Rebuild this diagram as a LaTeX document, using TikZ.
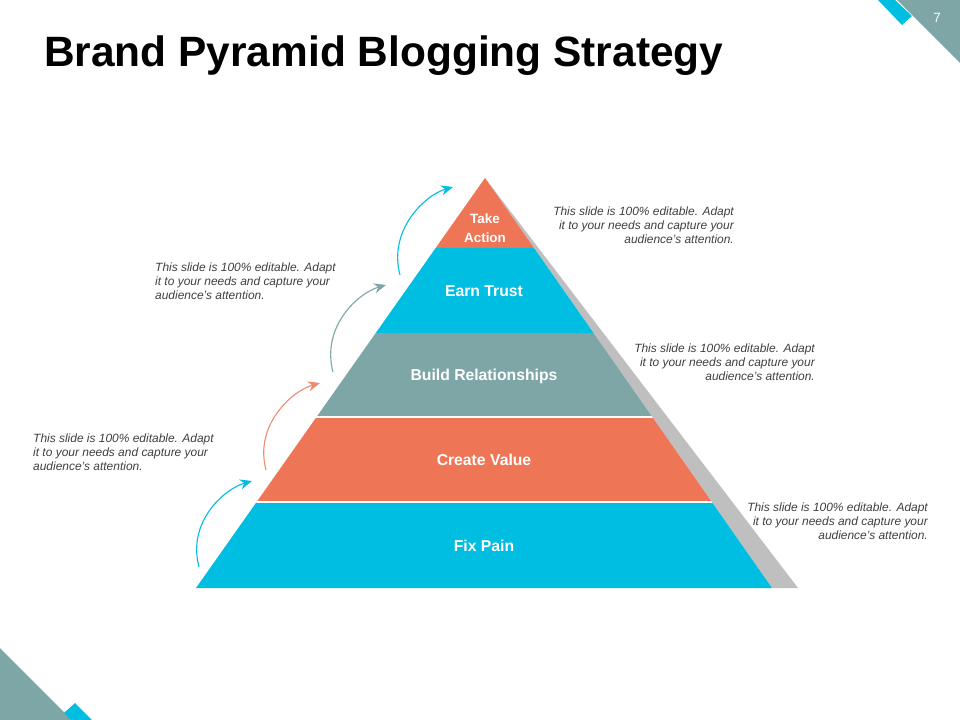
\documentclass[tikz,border=0pt]{standalone}
\usepackage{fontspec}
\setmainfont{Liberation Sans}
\usetikzlibrary{arrows.meta}
\definecolor{pblue}{RGB}{0,189,226}
\definecolor{porange}{RGB}{238,118,86}
\definecolor{pteal}{RGB}{127,166,167}
\definecolor{pshadow}{RGB}{191,191,191}
\definecolor{ptext}{RGB}{64,64,64}
\tikzset{
  note/.style={font=\fontsize{12}{14}\selectfont\itshape, text=ptext, inner sep=0pt},
  band/.style={font=\fontsize{15.8}{18}\selectfont\bfseries, text=white, inner sep=0pt},
  curvearrow/.style={line width=1.1bp, -{Stealth[length=12bp,width=10bp,inset=4bp]}},
}
\begin{document}
\begin{tikzpicture}[x=1bp,y=-1bp]
\useasboundingbox (0,0) rectangle (960,720);
\fill[white] (0,0) rectangle (960,720);
% corner decorations
\fill[pteal] (897,0) -- (960,0) -- (960,63) -- cycle;
\fill[pblue] (878,0) -- (895,0) -- (912,16) -- (902,25) -- cycle;
\node[font=\fontsize{13.5}{15}\selectfont, text=white, inner sep=0pt] (pagenum) at (937,18) {7};
\fill[pteal] (0,648) -- (0,720) -- (72,720) -- cycle;
\fill[pblue] (64,713) -- (75,703) -- (92,720) -- (71,720) -- cycle;
% title
\node[anchor=base west, inner sep=0pt, font=\fontsize{42.6}{50}\selectfont\bfseries] (title) at (44,67) {Brand Pyramid Blogging Strategy};
% pyramid
\coordinate (apex) at (485,178);
\coordinate (bl) at (196,588);
\coordinate (br) at (772,588);
\coordinate (sbr) at (798,588);
\fill[pshadow] (apex) -- (sbr) -- (br) -- cycle;
\begin{scope}
\clip (apex) -- (bl) -- (br) -- cycle;
\fill[porange] (150,170) rectangle (820,248);
\fill[pblue] (150,248) rectangle (820,333);
\fill[pteal] (150,333) rectangle (820,417);
\fill[porange] (150,417) rectangle (820,502);
\fill[pblue] (150,502) rectangle (820,590);
\draw[white, line width=1.2bp] (150,417) -- (820,417);
\draw[white, line width=1.2bp] (150,502) -- (820,502);
\end{scope}
% labels
\node[band, font=\fontsize{13.5}{19}\selectfont\bfseries, align=center] (take) at (485,228) {Take\\Action};
\node[band] (earn) at (484,291) {Earn Trust};
\node[band] (build) at (484,376) {Build Relationships};
\node[band] (create) at (484,460) {Create Value};
\node[band] (fix) at (484,546) {Fix Pain};
% arrows
\coordinate (a1s) at (199,567); \coordinate (a1e) at (252,481);
\coordinate (a2s) at (266,470); \coordinate (a2e) at (320,383);
\coordinate (a3s) at (333,372); \coordinate (a3e) at (386,285);
\coordinate (a4s) at (400,275); \coordinate (a4e) at (453,187);
\draw[curvearrow, pblue] (a1s) .. controls +(-12,-45) and +(-28,8) .. (a1e);
\draw[curvearrow, porange!85!white] (a2s) .. controls +(-12,-45) and +(-28,8) .. (a2e);
\draw[curvearrow, pteal] (a3s) .. controls +(-12,-45) and +(-28,8) .. (a3e);
\draw[curvearrow, pblue] (a4s) .. controls +(-12,-45) and +(-28,8) .. (a4e);
% notes
\node[note, anchor=east, align=right] (n1) at (734,225) {This slide is 100\% editable. Adapt\\it to your needs and capture your\\audience's attention.};
\node[note, anchor=west, align=left] (n2) at (155,281) {This slide is 100\% editable. Adapt\\it to your needs and capture your\\audience's attention.};
\node[note, anchor=east, align=right] (n3) at (815,362) {This slide is 100\% editable. Adapt\\it to your needs and capture your\\audience's attention.};
\node[note, anchor=west, align=left] (n4) at (33,452) {This slide is 100\% editable. Adapt\\it to your needs and capture your\\audience's attention.};
\node[note, anchor=east, align=right] (n5) at (928,521) {This slide is 100\% editable. Adapt\\it to your needs and capture your\\audience's attention.};
\end{tikzpicture}
\end{document}
